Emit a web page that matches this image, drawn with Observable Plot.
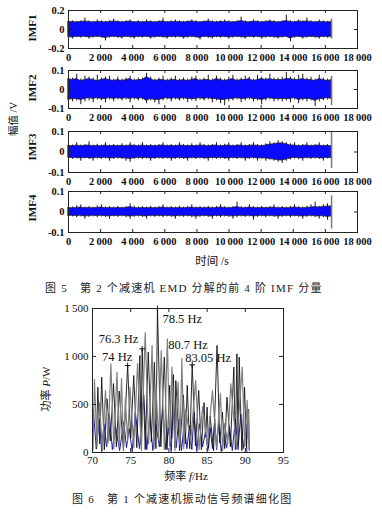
<!DOCTYPE html>
<html><head><meta charset="utf-8">
<script src="https://cdn.jsdelivr.net/npm/d3@7"></script>
<script src="https://cdn.jsdelivr.net/npm/@observablehq/plot@0.6"></script>
<style>
body{margin:0;background:#fff;}
#root{position:relative;width:382px;height:514px;overflow:hidden;background:#fff;}
.pl{position:absolute;left:0;}
.lab{position:absolute;white-space:nowrap;color:#111;transform:translate(-50%,-50%);font-family:"Liberation Serif","Noto Sans CJK SC",serif;}
.rot{transform:translate(-50%,-50%) rotate(-90deg);}
.cap{position:absolute;white-space:pre;font-size:11px;letter-spacing:1.2px;color:#222;transform:translateY(-50%);font-family:"Liberation Serif","Noto Sans CJK SC",serif;}
</style></head>
<body><div id="root"></div>
<script>
// ---------- Figure 5: IMF components ----------
const imfNames = ["IMF1", "IMF2", "IMF3", "IMF4"];
const imfLimits = [0.2, 0.1, 0.1, 0.1];
const timeTicks = [0, 2000, 4000, 6000, 8000, 10000, 12000, 14000, 16000, 18000];
const imfEndTime = 16384;
const imfEndHi = [0.11, 0.07, 0.10, 0.078];
const imfEndLo = [-0.10, -0.085, -0.08, -0.083];
const imfTime = [0,256,512,768,1024,1280,1536,1792,2048,2304,2560,2816,3072,
3328,3584,3840,4096,4352,4608,4864,5120,5376,5632,5888,6144,6400,
6656,6912,7168,7424,7680,7936,8192,8448,8704,8960,9216,9472,9728,
9984,10240,10496,10752,11008,11264,11520,11776,12032,12288,12544,12800,13056,
13312,13568,13824,14080,14336,14592,14848,15104,15360,15616,15872,16128,16384];

const imf1Hi = [0.11,0.09,0.085,0.09,0.12,0.09,0.085,0.10,0.09,0.085,0.09,0.11,0.09,
0.085,0.09,0.10,0.085,0.09,0.085,0.10,0.09,0.085,0.09,0.12,0.085,0.09,
0.10,0.09,0.085,0.09,0.10,0.09,0.085,0.09,0.11,0.09,0.085,0.09,0.10,
0.09,0.085,0.09,0.13,0.09,0.085,0.10,0.09,0.085,0.09,0.10,0.09,0.085,
0.09,0.15,0.09,0.085,0.10,0.09,0.12,0.09,0.085,0.10,0.09,0.085,0.09];
const imf1Lo = [-0.09,-0.10,-0.085,-0.09,-0.085,-0.10,-0.09,-0.085,-0.09,-0.12,-0.09,-0.085,-0.09,
-0.10,-0.085,-0.09,-0.10,-0.085,-0.09,-0.085,-0.10,-0.09,-0.085,-0.09,-0.10,-0.085,
-0.09,-0.085,-0.10,-0.09,-0.085,-0.09,-0.11,-0.085,-0.09,-0.10,-0.085,-0.09,-0.085,
-0.10,-0.09,-0.085,-0.09,-0.10,-0.085,-0.09,-0.085,-0.10,-0.09,-0.085,-0.09,-0.10,
-0.09,-0.085,-0.13,-0.09,-0.085,-0.10,-0.09,-0.085,-0.09,-0.10,-0.085,-0.09,-0.09];
const imf1BandHi = [0.08,0.08,0.075,0.08,0.085,0.08,0.075,0.08,0.08,0.075,0.08,0.085,0.08,
0.075,0.08,0.085,0.075,0.08,0.075,0.08,0.08,0.075,0.08,0.085,0.075,0.08,
0.08,0.08,0.075,0.08,0.085,0.08,0.075,0.08,0.085,0.08,0.075,0.08,0.08,
0.08,0.075,0.08,0.09,0.08,0.075,0.085,0.08,0.075,0.08,0.085,0.08,0.075,
0.08,0.09,0.08,0.075,0.085,0.08,0.085,0.08,0.075,0.08,0.08,0.075,0.08];
const imf1BandLo = [-0.08,-0.085,-0.075,-0.08,-0.075,-0.085,-0.08,-0.075,-0.08,-0.09,-0.08,-0.075,-0.08,
-0.085,-0.075,-0.08,-0.085,-0.075,-0.08,-0.075,-0.085,-0.08,-0.075,-0.08,-0.085,-0.075,
-0.08,-0.075,-0.085,-0.08,-0.075,-0.08,-0.09,-0.075,-0.08,-0.085,-0.075,-0.08,-0.075,
-0.085,-0.08,-0.075,-0.08,-0.085,-0.075,-0.08,-0.075,-0.085,-0.08,-0.075,-0.08,-0.085,
-0.08,-0.075,-0.095,-0.08,-0.075,-0.085,-0.08,-0.075,-0.08,-0.085,-0.075,-0.08,-0.08];

const imf2Hi = [0.09,0.06,0.08,0.055,0.07,0.065,0.06,0.075,0.06,0.065,0.07,0.055,0.065,
0.055,0.06,0.07,0.055,0.06,0.06,0.085,0.065,0.055,0.06,0.07,0.055,0.06,
0.07,0.055,0.06,0.055,0.065,0.07,0.055,0.06,0.075,0.055,0.07,0.06,0.055,
0.065,0.075,0.055,0.06,0.07,0.065,0.055,0.075,0.065,0.06,0.08,0.06,0.06,
0.065,0.09,0.065,0.06,0.075,0.08,0.06,0.065,0.055,0.075,0.06,0.055,0.06];
const imf2Lo = [-0.09,-0.065,-0.06,-0.08,-0.065,-0.06,-0.07,-0.055,-0.06,-0.07,-0.055,-0.065,-0.055,
-0.06,-0.055,-0.07,-0.055,-0.06,-0.055,-0.075,-0.06,-0.07,-0.08,-0.06,-0.055,-0.065,
-0.055,-0.06,-0.055,-0.07,-0.06,-0.065,-0.055,-0.06,-0.055,-0.07,-0.06,-0.075,-0.085,
-0.065,-0.06,-0.055,-0.07,-0.06,-0.055,-0.065,-0.06,-0.08,-0.06,-0.055,-0.065,-0.06,
-0.065,-0.06,-0.07,-0.055,-0.075,-0.06,-0.065,-0.06,-0.09,-0.065,-0.06,-0.055,-0.06];
const imf2BandHi = [0.055,0.05,0.055,0.045,0.05,0.055,0.05,0.045,0.05,0.055,0.05,0.045,0.05,
0.045,0.05,0.055,0.045,0.05,0.05,0.065,0.055,0.045,0.05,0.05,0.045,0.05,
0.05,0.045,0.05,0.045,0.05,0.055,0.045,0.05,0.05,0.045,0.055,0.05,0.045,
0.05,0.055,0.045,0.05,0.05,0.055,0.045,0.05,0.055,0.05,0.055,0.05,0.05,
0.05,0.055,0.055,0.05,0.05,0.055,0.05,0.05,0.045,0.055,0.05,0.045,0.05];
const imf2BandLo = [-0.055,-0.05,-0.05,-0.055,-0.05,-0.045,-0.05,-0.045,-0.05,-0.05,-0.045,-0.05,-0.045,
-0.05,-0.045,-0.05,-0.045,-0.05,-0.045,-0.06,-0.05,-0.055,-0.055,-0.05,-0.045,-0.05,
-0.045,-0.05,-0.045,-0.05,-0.05,-0.05,-0.045,-0.05,-0.045,-0.05,-0.05,-0.055,-0.055,
-0.05,-0.05,-0.045,-0.05,-0.05,-0.045,-0.05,-0.05,-0.055,-0.05,-0.045,-0.05,-0.05,
-0.05,-0.05,-0.05,-0.045,-0.055,-0.05,-0.05,-0.05,-0.06,-0.05,-0.05,-0.045,-0.05];

const imf3Hi = [0.036,0.034,0.045,0.034,0.036,0.05,0.034,0.038,0.034,0.045,0.034,0.036,0.034,
0.04,0.034,0.045,0.036,0.034,0.045,0.034,0.036,0.034,0.036,0.045,0.034,0.036,
0.034,0.045,0.036,0.034,0.04,0.034,0.045,0.036,0.034,0.036,0.045,0.034,0.038,
0.045,0.034,0.036,0.045,0.034,0.036,0.045,0.036,0.034,0.04,0.05,0.045,0.055,
0.05,0.045,0.04,0.045,0.034,0.036,0.045,0.034,0.036,0.045,0.034,0.036,0.034];
const imf3Lo = [-0.034,-0.036,-0.034,-0.045,-0.034,-0.036,-0.045,-0.034,-0.036,-0.034,-0.045,-0.036,-0.034,
-0.036,-0.045,-0.05,-0.036,-0.034,-0.036,-0.034,-0.045,-0.036,-0.034,-0.036,-0.034,-0.045,
-0.036,-0.034,-0.036,-0.045,-0.034,-0.036,-0.034,-0.036,-0.045,-0.034,-0.036,-0.034,-0.036,
-0.045,-0.034,-0.036,-0.034,-0.045,-0.036,-0.034,-0.045,-0.036,-0.045,-0.04,-0.045,-0.05,
-0.055,-0.045,-0.038,-0.034,-0.036,-0.045,-0.034,-0.036,-0.034,-0.036,-0.045,-0.034,-0.036];
const imf3BandHi = [0.03,0.028,0.032,0.028,0.03,0.032,0.028,0.03,0.028,0.032,0.028,0.03,0.028,
0.03,0.028,0.032,0.03,0.028,0.032,0.028,0.03,0.028,0.03,0.032,0.028,0.03,
0.028,0.032,0.03,0.028,0.03,0.028,0.032,0.03,0.028,0.03,0.032,0.028,0.03,
0.032,0.028,0.03,0.032,0.028,0.03,0.032,0.03,0.028,0.032,0.036,0.038,0.042,
0.042,0.038,0.032,0.032,0.028,0.03,0.032,0.028,0.03,0.032,0.028,0.03,0.028];
const imf3BandLo = [-0.028,-0.03,-0.028,-0.032,-0.028,-0.03,-0.032,-0.028,-0.03,-0.028,-0.032,-0.03,-0.028,
-0.03,-0.032,-0.034,-0.03,-0.028,-0.03,-0.028,-0.032,-0.03,-0.028,-0.03,-0.028,-0.032,
-0.03,-0.028,-0.03,-0.032,-0.028,-0.03,-0.028,-0.03,-0.032,-0.028,-0.03,-0.028,-0.03,
-0.032,-0.028,-0.03,-0.028,-0.032,-0.03,-0.028,-0.032,-0.03,-0.032,-0.034,-0.037,-0.04,
-0.042,-0.037,-0.032,-0.028,-0.03,-0.032,-0.028,-0.03,-0.028,-0.03,-0.032,-0.028,-0.03];

const imf4Hi = [0.026,0.024,0.03,0.035,0.024,0.026,0.024,0.03,0.035,0.024,0.026,0.024,0.028,
0.024,0.026,0.04,0.028,0.024,0.026,0.024,0.028,0.024,0.026,0.035,0.024,0.026,
0.024,0.028,0.024,0.026,0.035,0.024,0.026,0.024,0.028,0.024,0.026,0.035,0.026,
0.024,0.026,0.048,0.026,0.024,0.035,0.026,0.024,0.028,0.024,0.026,0.035,0.024,
0.026,0.024,0.026,0.035,0.026,0.024,0.028,0.035,0.048,0.028,0.035,0.04,0.045];
const imf4Lo = [-0.026,-0.024,-0.028,-0.024,-0.035,-0.026,-0.024,-0.028,-0.024,-0.026,-0.035,-0.024,-0.026,
-0.024,-0.028,-0.035,-0.026,-0.024,-0.026,-0.035,-0.024,-0.026,-0.024,-0.028,-0.024,-0.026,
-0.035,-0.024,-0.026,-0.024,-0.028,-0.035,-0.026,-0.024,-0.026,-0.035,-0.024,-0.028,-0.024,
-0.026,-0.035,-0.028,-0.024,-0.026,-0.024,-0.04,-0.026,-0.024,-0.028,-0.024,-0.026,-0.035,
-0.026,-0.024,-0.028,-0.024,-0.026,-0.035,-0.026,-0.024,-0.028,-0.035,-0.028,-0.04,-0.035];
const imf4BandHi = [0.02,0.018,0.02,0.022,0.018,0.02,0.018,0.02,0.022,0.018,0.02,0.018,0.02,
0.018,0.02,0.024,0.02,0.018,0.02,0.018,0.02,0.018,0.02,0.022,0.018,0.02,
0.018,0.02,0.018,0.02,0.022,0.018,0.02,0.018,0.02,0.018,0.02,0.022,0.02,
0.018,0.02,0.024,0.02,0.018,0.022,0.02,0.018,0.02,0.018,0.02,0.022,0.018,
0.02,0.018,0.02,0.022,0.02,0.018,0.02,0.022,0.024,0.022,0.024,0.027,0.027];
const imf4BandLo = [-0.02,-0.018,-0.02,-0.018,-0.022,-0.02,-0.018,-0.02,-0.018,-0.02,-0.022,-0.018,-0.02,
-0.018,-0.02,-0.022,-0.02,-0.018,-0.02,-0.022,-0.018,-0.02,-0.018,-0.02,-0.018,-0.02,
-0.022,-0.018,-0.02,-0.018,-0.02,-0.022,-0.02,-0.018,-0.02,-0.022,-0.018,-0.02,-0.018,
-0.02,-0.022,-0.02,-0.018,-0.02,-0.018,-0.022,-0.02,-0.018,-0.02,-0.018,-0.02,-0.022,
-0.02,-0.018,-0.02,-0.018,-0.02,-0.022,-0.02,-0.018,-0.02,-0.022,-0.02,-0.024,-0.022];

// ---------- Figure 6: refined spectrum ----------
const freqTicks = [70, 75, 80, 85, 90, 95];
const powerTicks = [0, 500, 1000, 1500];
const blackPeakF = [70.7,71.2,71.9,72.75,73.5,74.6,75.4,76.2,76.5,77.3,78.1,78.5,79.4,80.1,80.6,80.9,81.9,82.4,83.05,83.9,84.6,85.0,85.4,86.3,87.0,87.6,88.5,88.9,89.2,89.9,90.4];
const blackPeakP = [680,785,560,718,640,906,802,1010,1080,1045,940,1500,993,700,810,750,600,700,913,646,520,472,380,1115,420,576,889,1028,993,680,450];
const blackTroughP = [40,90,30,120,60,20,150,50,80,30,110,40,60,30,140,50,20,90,40,70,30,160,50,20,100,40,60,30,80,20,50,30];
const grayPeakF = [70.26,70.9,71.7,72.4,73.2,73.8,74.3,74.9,75.9,76.9,77.8,78.3,79.0,79.8,80.4,81.2,81.7,82.2,83.5,84.4,85.7,86.75,87.3,88.1,89.6,90.25,90.45];
const grayPeakP = [760,520,646,924,837,770,560,680,927,1250,1115,700,1062,1184,890,733,980,450,750,472,646,615,300,715,889,542,437];
const grayTroughP = [30,60,20,100,40,70,30,120,50,20,90,40,130,30,60,20,80,40,110,30,70,50,20,90,40,60,150,20];
const bluePeakF = [70.1,70.9,71.5,72.2,73.0,74.1,74.8,75.6,76.7,77.5,78.3,79.2,80.0,80.6,81.3,82.0,82.7,83.3,84.0,84.8,85.4,86.0,86.5,87.2,87.9,88.7,89.4,90.1];
const bluePeakP = [450,350,300,400,280,320,250,420,600,380,300,450,260,500,350,300,280,420,300,220,260,350,300,200,280,350,400,300];
const blueTroughP = [20,40,10,60,30,20,50,10,40,30,20,60,30,10,50,20,40,30,10,60,20,40,30,10,50,20,30,40,10];
const markFreq = [74.6, 76.5, 78.5, 83.05];
const markPower = [906, 1080, 1500, 913];
const annoText = ["78.5 Hz", "76.3 Hz", "74 Hz", "80.7 Hz", "83.05 Hz"];
const annoFreq = [78.5, 76.3, 74, 80.7, 83.05];
const annoPower = [1500, 1080, 906, 1184, 913];

// ---------- helpers ----------
const root = document.getElementById("root");
const thin = d => Math.abs(d) >= 1000 ? d3.format(",")(d).replace(/,/g, "\u2009") : String(d);
const ampFmt = d => d === 0 ? "0" : String(d);

function place(node, top) {
  const w = document.createElement("div");
  w.className = "pl"; w.style.top = top + "px";
  w.appendChild(node); root.appendChild(w);
}
function label(html, x, y, size, rot, extra) {
  const d = document.createElement("div");
  d.className = "lab" + (rot ? " rot" : "");
  d.style.left = x + "px"; d.style.top = y + "px"; d.style.fontSize = size + "px";
  if (extra) Object.assign(d.style, extra);
  d.innerHTML = html; root.appendChild(d);
}
function caption(text, x, y) {
  const d = document.createElement("div");
  d.className = "cap"; d.style.left = x + "px"; d.style.top = y + "px";
  d.textContent = text; root.appendChild(d);
}

// ---------- IMF panels ----------
const imfSeries = [
  [imf1Hi, imf1Lo, imf1BandHi, imf1BandLo],
  [imf2Hi, imf2Lo, imf2BandHi, imf2BandLo],
  [imf3Hi, imf3Lo, imf3BandHi, imf3BandLo],
  [imf4Hi, imf4Lo, imf4BandHi, imf4BandLo]
];
const panelLayout = [{top: 2, h: 38}, {top: 62, h: 38}, {top: 123, h: 41}, {top: 183, h: 41}];
const mL = 68, mR = 25, fw = 382 - mL - mR;

imfSeries.forEach(([hi, lo, bHi, bLo], k) => {
  const m = imfLimits[k], {top, h} = panelLayout[k];
  const yt = [-m, 0, m];
  const chart = Plot.plot({
    width: 382, height: 8 + h + 16,
    marginTop: 8, marginBottom: 16, marginLeft: mL, marginRight: mR,
    style: {fontFamily: "'Liberation Serif', serif", fontSize: "10.5px", fontWeight: "bold", color: "#111", background: "transparent", overflow: "visible"},
    x: {domain: [0, 18000], ticks: timeTicks, tickFormat: thin, tickSize: 0, tickPadding: 5, label: null},
    y: {domain: [-m, m], ticks: yt, tickFormat: ampFmt, tickSize: 0, tickPadding: 4, label: null},
    marks: [
      Plot.ruleX(imfTime, {x: imfTime, y1: lo, y2: hi, stroke: "#151515", strokeWidth: 1}),
      Plot.areaY(imfTime, {x: imfTime, y1: bLo, y2: bHi, fill: "#0a0aff", stroke: "#1a1a1a", strokeWidth: 0.7, curve: "linear"}),
      Plot.ruleX([imfEndTime], {x: d => d, y1: imfEndLo[k], y2: imfEndHi[k], stroke: "#7a7a7a", strokeWidth: 1.5}),
      Plot.tickX(timeTicks, {x: d => d, insetBottom: h - 3, stroke: "#222"}),
      Plot.tickX(timeTicks, {x: d => d, insetTop: h - 3, stroke: "#222"}),
      Plot.tickY(yt, {y: d => d, insetLeft: fw - 3, stroke: "#222"}),
      Plot.tickY(yt, {y: d => d, insetRight: fw - 3, stroke: "#222"}),
      Plot.frame({stroke: "#222"})
    ]
  });
  place(chart, top);
});

label("幅值 /V", 12, 119, 10.5, true);
[28.3, 88.3, 146.7, 208.3].forEach((y, k) => label(imfNames[k], 31.7, y, 11, true, {fontWeight: "bold"}));
label("时间 /s", 212, 260, 11.5, false);
caption("图 5", 45, 287);
caption("第 2 个减速机 EMD 分解的前 4 阶 IMF 分量", 80, 287);

// ---------- Spectrum ----------
function buildSeries(pf, pp, tp) {
  const pts = [];
  for (let i = 0; i < pf.length; i++) {
    const tf = i === 0 ? Math.max(70, pf[0] - 0.2) : (pf[i - 1] + pf[i]) / 2;
    pts.push({f: tf, p: tp[i]});
    pts.push({f: pf[i], p: pp[i]});
  }
  pts.push({f: pf[pf.length - 1] + 0.1, p: tp[pf.length]});
  return pts;
}
const graySeries = buildSeries(grayPeakF, grayPeakP, grayTroughP);
const blueSeries = buildSeries(bluePeakF, bluePeakP, blueTroughP);
const blackSeries = buildSeries(blackPeakF, blackPeakP, blackTroughP);
const marks6 = markFreq.map((f, i) => ({f, p: markPower[i]}));
const annos = annoText.map((t, i) => ({t, f: annoFreq[i], p: annoPower[i]}));
const annoOffsets = [[5, 10], [-42, -10], [-21, -9], [-6, 6], [-7, -7]];

const sH = 144, sL = 92, sR = 99, sW = 382 - sL - sR;
const spec = Plot.plot({
  width: 382, height: 10 + sH + 22,
  marginTop: 10, marginBottom: 22, marginLeft: sL, marginRight: sR,
  style: {fontFamily: "'Liberation Serif', serif", fontSize: "11px", color: "#111", background: "transparent", overflow: "visible"},
  x: {domain: [70, 95], ticks: freqTicks, tickSize: 0, tickPadding: 4, label: null},
  y: {domain: [0, 1500], ticks: powerTicks, tickFormat: thin, tickSize: 0, tickPadding: 4, label: null},
  marks: [
    Plot.line(blueSeries, {x: "f", y: "p", stroke: "#1c1ca8", strokeWidth: 1}),
    Plot.line(blackSeries, {x: "f", y: "p", stroke: "#111", strokeWidth: 0.9}),
    Plot.line(graySeries, {x: "f", y: "p", stroke: "#808080", strokeWidth: 1.2}),
    Plot.dot(marks6, {x: "f", y: "p", symbol: "plus", r: 2, stroke: "#111", strokeWidth: 1}),
    ...annos.map((a, i) => Plot.text([a], {x: "f", y: "p", text: "t", textAnchor: "start", lineAnchor: "middle",
      dx: annoOffsets[i][0], dy: annoOffsets[i][1], fontSize: 12.5, fill: "#111"})),
    Plot.tickX(freqTicks, {x: d => d, insetBottom: sH - 4, stroke: "#222"}),
    Plot.tickX(freqTicks, {x: d => d, insetTop: sH - 4, stroke: "#222"}),
    Plot.tickY(powerTicks, {y: d => d, insetLeft: sW - 4, stroke: "#222"}),
    Plot.tickY(powerTicks, {y: d => d, insetRight: sW - 4, stroke: "#222"}),
    Plot.frame({stroke: "#222"})
  ]
});
place(spec, 298);

label("功率 <i>P</i>/W", 45, 389, 11, true);
label("频率 <i>f</i>/Hz", 186, 475, 11, false);
caption("图 6", 72, 498);
caption("第 1 个减速机振动信号频谱细化图", 107, 498);
</script></body></html>
